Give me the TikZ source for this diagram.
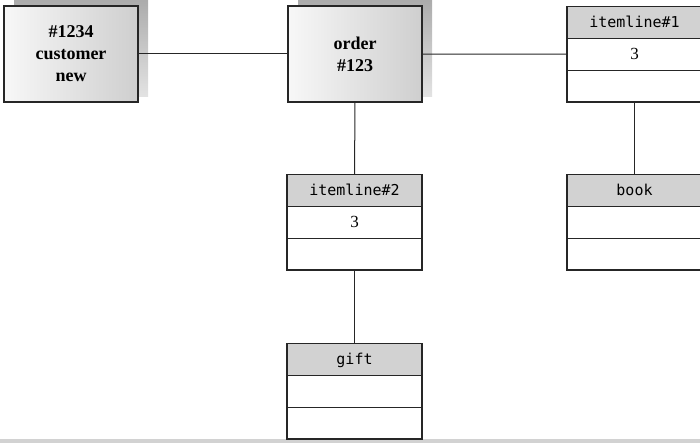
\documentclass[tikz,border=0pt]{standalone}
\usepackage{fontspec}
\setmainfont{Liberation Serif}
\newfontfamily\hdrfont{DejaVu Sans Mono}
\usetikzlibrary{shapes.multipart,shadows}

% one row of a class box, all rows the same height
\newcommand{\hdrrow}[1]{\rule[-10pt]{0pt}{30.6pt}{\hdrfont\fontsize{15}{17}\selectfont #1}}
\newcommand{\cellrow}[1]{\rule[-10pt]{0pt}{30.6pt}{\fontsize{17}{19}\selectfont #1}}

\tikzset{
	obj/.style={draw=black!85, line width=1.2pt, minimum width=134pt, minimum height=96pt, align=center,
		left color=gray!6, right color=gray!38, font=\bfseries\fontsize{18}{22}\selectfont,
		general shadow={shadow xshift=10pt, shadow yshift=5pt, top color=gray!65, bottom color=gray!22}},
	cls/.style={draw=black!85, line width=1.2pt, rectangle split, rectangle split parts=3,
		rectangle split part fill={gray!35,white,white}, minimum width=135pt, inner xsep=2pt, inner ysep=0pt, anchor=north},
	link/.style={draw=black!85, line width=1pt}
}

\begin{document}
\begin{tikzpicture}[x=1pt, y=-1pt]
	\useasboundingbox (0,0) rectangle (700,443);
	\fill[gray!35] (0,439) rectangle (700,443);
	
	% objects
	\node[obj] (cust) at (71,54) {\#1234\\customer\\new};
	\node[obj] (ord) at (355,54) {order\\\#123};
	
	% class boxes
	\node[cls] (il1) at (634.5,6) {\hdrrow{itemline\#1}\nodepart{two}\cellrow{3}\nodepart{three}\cellrow{}};
	\node[cls] (il2) at (354.5,174) {\hdrrow{itemline\#2}\nodepart{two}\cellrow{3}\nodepart{three}\cellrow{}};
	\node[cls] (book) at (634.5,174) {\hdrrow{book}\nodepart{two}\cellrow{}\nodepart{three}\cellrow{}};
	\node[cls] (gift) at (354.5,343) {\hdrrow{gift}\nodepart{two}\cellrow{}\nodepart{three}\cellrow{}};
	
	% links
	\draw[link] (cust) -- (ord);
	\draw[link] (ord) -- (il1);
	\draw[link] (ord) -- (il2);
	\draw[link] (il2) -- (gift);
	\draw[link] (il1) -- (book);
\end{tikzpicture}
\end{document}
